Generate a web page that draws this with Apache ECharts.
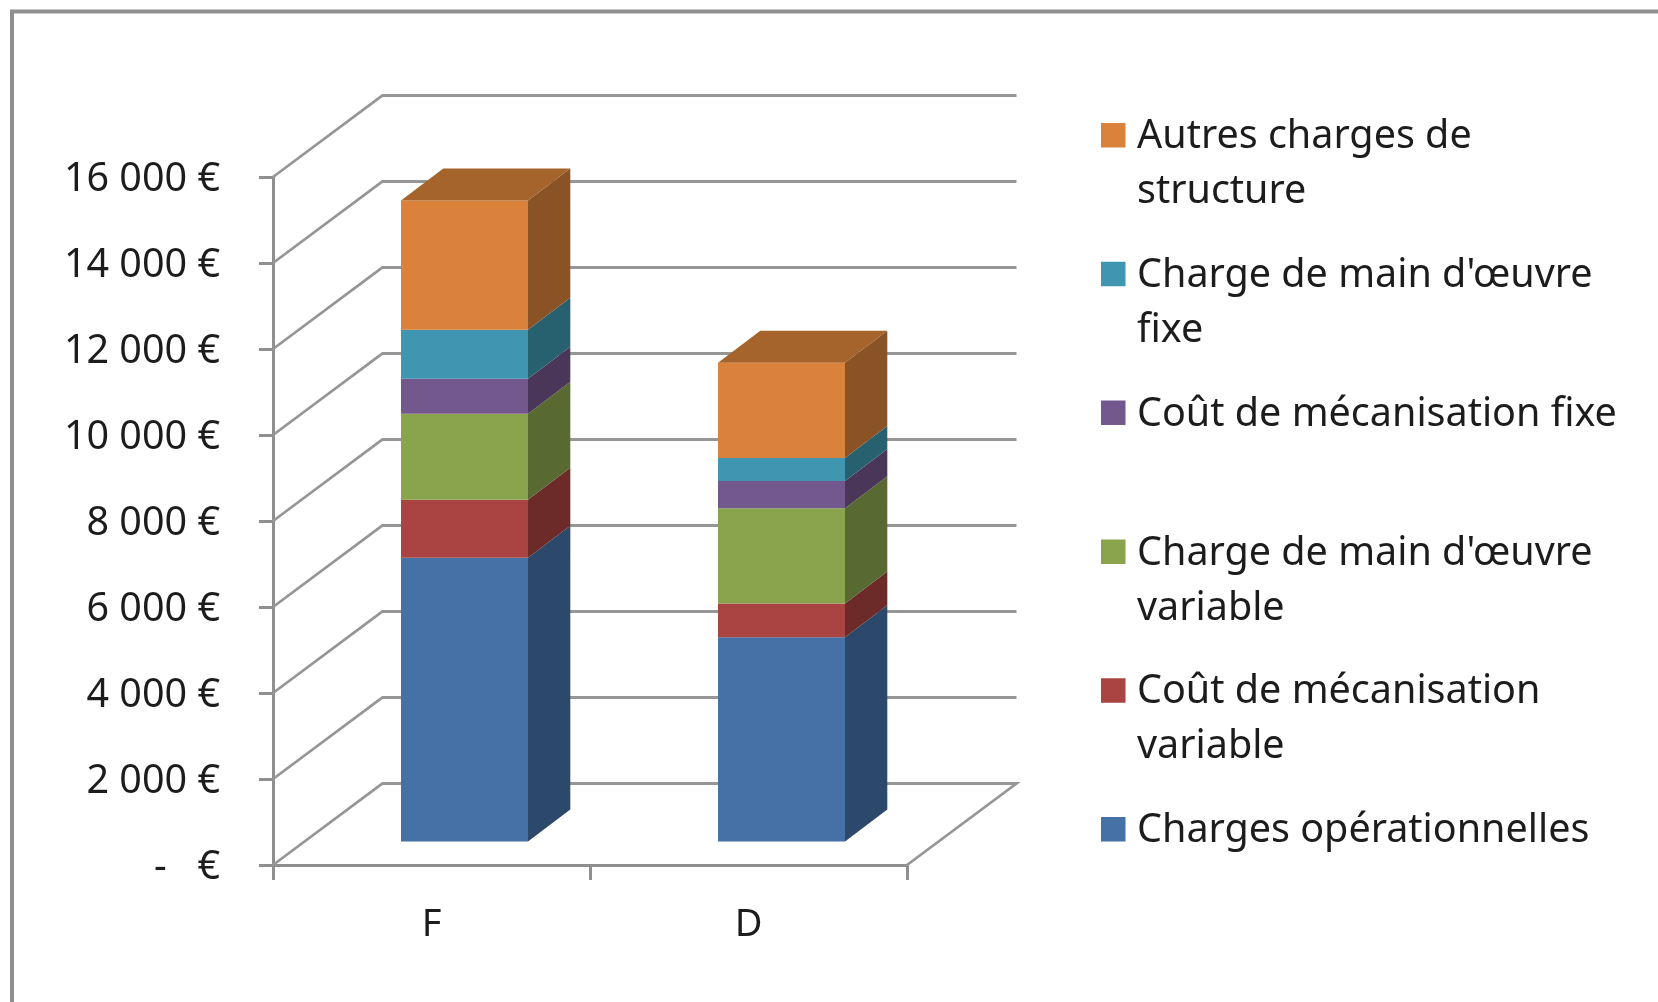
<!DOCTYPE html>
<html>
<head>
<meta charset="utf-8">
<style>
html,body{margin:0;padding:0;background:#fff;overflow:hidden}
#c{width:1658px;height:1002px;filter:blur(0.7px)}
</style>
<script src="https://cdn.jsdelivr.net/npm/echarts@6/dist/echarts.min.js"></script>
</head>
<body>
<div id="c"></div>
<script>
const categories = ['F', 'D'];
const yTicks = [0, 2000, 4000, 6000, 8000, 10000, 12000, 14000, 16000];

const chargesOperationnelles = [6600, 4750];
const coutMecaVariable = [1350, 785];
const chargeMoVariable = [1995, 2215];
const coutMecaFixe = [815, 635];
const chargeMoFixe = [1140, 535];
const autresCharges = [3005, 2215];

const seriesNames = [
  'Charges opérationnelles',
  'Coût de mécanisation variable',
  "Charge de main d'œuvre variable",
  'Coût de mécanisation fixe',
  "Charge de main d'œuvre fixe",
  'Autres charges de structure'
];
const legendLabels = {
  'Autres charges de structure': 'Autres charges de\nstructure',
  "Charge de main d'œuvre fixe": "Charge de main d'œuvre\nfixe",
  'Coût de mécanisation fixe': 'Coût de mécanisation fixe\n ',
  "Charge de main d'œuvre variable": "Charge de main d'œuvre\nvariable",
  'Coût de mécanisation variable': 'Coût de mécanisation\nvariable',
  'Charges opérationnelles': 'Charges opérationnelles\n '
};
const seriesValues = [chargesOperationnelles, coutMecaVariable, chargeMoVariable, coutMecaFixe, chargeMoFixe, autresCharges];
const frontColors = ['#4571A6', '#A94442', '#89A44C', '#73588D', '#4096B0', '#DA813B'];
const sideColors = ['#2C486B', '#6C2A29', '#586A31', '#4A3659', '#27616F', '#8A5325'];
const topColor = '#A5642C';

const FONT = '"Noto Sans", "Open Sans", sans-serif';
const LINE = '#969696';
const WALL = { dx: 109.5, dy: -81.5 };
const BAR = { width: 127, shiftX: 33, shiftY: -23.5, depthX: 42.3, depthY: -32 };

function wallItem(params, api) {
  const v = api.value(0);
  const half = api.size([1, 0])[0] / 2;
  const l = api.coord([0, v]);
  const r = api.coord([categories.length - 1, v]);
  const x0 = l[0] - half, x1 = r[0] + half, y = l[1];
  const pts = [[x0, y], [x0 + WALL.dx, y + WALL.dy], [x1 + WALL.dx, y + WALL.dy]];
  if (v === 0) pts.push([x1, y]);
  return { type: 'polyline', shape: { points: pts }, style: { stroke: LINE, lineWidth: 2.8, fill: null }, silent: true };
}

function barItem(params, api) {
  const i = params.seriesIndex - 1;
  const c = api.value(0);
  const lo = api.coord([c, api.value(1)]);
  const hi = api.coord([c, api.value(2)]);
  const x0 = lo[0] + BAR.shiftX - BAR.width / 2;
  const x1 = x0 + BAR.width;
  const yb = lo[1] + BAR.shiftY, yt = hi[1] + BAR.shiftY;
  const dx = BAR.depthX, dy = BAR.depthY;
  const children = [
    { type: 'polygon', shape: { points: [[x1, yb], [x1 + dx, yb + dy], [x1 + dx, yt + dy], [x1, yt]] }, style: { fill: sideColors[i] } },
    { type: 'polygon', shape: { points: [[x0, yb], [x1, yb], [x1, yt], [x0, yt]] }, style: { fill: frontColors[i] } }
  ];
  if (i === seriesValues.length - 1) {
    children.push({ type: 'polygon', shape: { points: [[x0, yt], [x0 + dx, yt + dy], [x1 + dx, yt + dy], [x1, yt]] }, style: { fill: topColor } });
  }
  return { type: 'group', children };
}

const running = categories.map(() => 0);
const barSeries = seriesNames.map((name, i) => {
  const data = categories.map((_, c) => {
    const from = running[c];
    running[c] += seriesValues[i][c];
    return [c, from, running[c]];
  });
  return {
    type: 'custom', name, data, renderItem: barItem, z: 5,
    encode: { x: 0, y: [1, 2] },
    itemStyle: { color: frontColors[i] },
    clip: false
  };
});

const chart = echarts.init(document.getElementById('c'), null, { renderer: 'canvas' });
chart.setOption({
  animation: false,
  backgroundColor: '#ffffff',
  grid: { left: 273, top: 177, width: 634, height: 688, containLabel: false },
  xAxis: {
    type: 'category', data: categories,
    axisLine: { lineStyle: { color: '#8f8f8f', width: 3 } },
    axisTick: { show: true, length: 15, alignWithLabel: false, lineStyle: { color: '#8f8f8f', width: 3 } },
    axisLabel: { color: '#1c1c1c', fontFamily: FONT, fontSize: 38, margin: 41 }
  },
  yAxis: {
    type: 'value', min: 0, max: 16000, interval: 2000,
    splitLine: { show: false },
    axisLine: { show: true, lineStyle: { color: '#8f8f8f', width: 3 } },
    axisTick: { show: true, length: 14, lineStyle: { color: '#8f8f8f', width: 3 } },
    axisLabel: {
      margin: 53,
      formatter: v => '{t|' + (v === 0 ? '-   €' : String(v).replace(/(\d)(\d{3})$/, '$1 $2') + ' €') + '}',
      rich: { t: { color: '#1c1c1c', fontFamily: FONT, fontSize: 39.5, padding: [6, 0, 0, 0] } }
    }
  },
  legend: {
    left: 1101, top: 109.5, orient: 'vertical', padding: 0, itemGap: 28.8,
    itemWidth: 31, itemHeight: 110,
    icon: 'path://M0 13.5H24.5V38H0Z M0 0L0.01 0Z M31 110L30.99 110Z',
    itemStyle: { borderWidth: 0 },
    selectedMode: false,
    data: seriesNames.slice().reverse(),
    formatter: n => legendLabels[n],
    textStyle: { color: '#1c1c1c', fontFamily: FONT, fontSize: 39.5, lineHeight: 55 }
  },
  graphic: [
    { type: 'polyline', silent: true, shape: { points: [[12, 1010], [12, 11.5], [1670, 11.5]] }, style: { stroke: '#8f8f8f', lineWidth: 4, fill: null } }
  ],
  series: [
    { type: 'custom', name: 'murs', data: yTicks.map(v => [v]), renderItem: wallItem, z: 1, encode: { y: 0 }, clip: false, silent: true }
  ].concat(barSeries)
});
</script>
</body>
</html>
